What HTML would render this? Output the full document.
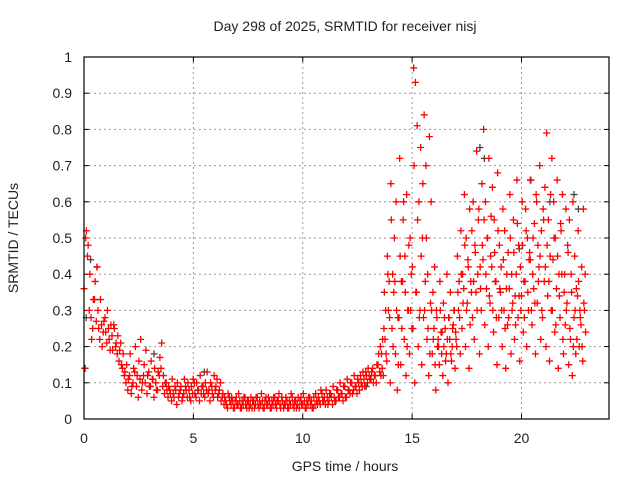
<!DOCTYPE html>
<html><head><meta charset="utf-8"><style>
body{margin:0;background:#fff}
svg text{font-family:"Liberation Sans",sans-serif;font-size:14px;fill:#222}
</style></head><body>
<svg id="chart" width="640" height="480" xmlns="http://www.w3.org/2000/svg">
<text x="345" y="31" text-anchor="middle">Day 298 of 2025, SRMTID for receiver nisj</text>
<text transform="translate(18,238) rotate(-90)" text-anchor="middle">SRMTID / TECUs</text>
<text x="345" y="471" text-anchor="middle">GPS time / hours</text>
<g id="grid"></g>
<g id="ticks"></g>
<g id="marks"></g>
<rect x="84" y="57" width="525" height="362" fill="none" stroke="#000" stroke-width="1.2"/>
</svg>
<script>
const xTicks=[0,5,10,15,20];
const yTicks=[0,0.1,0.2,0.3,0.4,0.5,0.6,0.7,0.8,0.9,1];
const yTickLabels=["0","0.1","0.2","0.3","0.4","0.5","0.6","0.7","0.8","0.9","1"];
const sampleStep=0.08;
const seriesCStart=169;
const seriesA=[.36,.50,.45,.30,.28,.25,.33,.27,.30,.22,.26,.24,
.28,.21,.25,.19,.23,.26,.20,.18,.16,.21,.14,.12,
.10,.08,.12,.07,.10,.13,.09,.06,.11,.08,.12,.10,
.07,.13,.09,.11,.06,.10,.08,.12,.14,.09,.07,.10,
.06,.08,.05,.07,.09,.04,.06,.08,.05,.07,.09,.06,
.08,.05,.07,.10,.06,.08,.05,.07,.09,.06,.08,.07,
.05,.09,.06,.08,.11,.07,.10,.06,.04,.05,.03,.06,
.04,.05,.03,.06,.04,.05,.03,.04,.06,.03,.05,.04,
.03,.05,.04,.06,.03,.04,.05,.03,.06,.04,.05,.03,
.04,.06,.03,.05,.04,.06,.03,.04,.05,.03,.04,.06,
.03,.05,.04,.03,.06,.04,.05,.03,.04,.06,.05,.03,
.04,.05,.06,.04,.07,.05,.04,.06,.05,.07,.04,.06,
.05,.08,.06,.07,.05,.09,.06,.08,.07,.10,.08,.09,
.07,.10,.12,.09,.11,.13,.10,.12,.11,.14,.12,.10,
.15,.13,.18,.12,.22,.16,.30,.10,.25,.35,.18,.08,
.28,.15,.38,.22,.12,.30,.18,.40,.25,.10,.35,.20,
.30,.15,.28,.38,.22,.12,.32,.18,.25,.08,.20,.15,
.24,.12,.28,.18,.10,.22,.16,.26,.14,.20,.30,.18,
.25,.36,.20,.32,.14,.38,.28,.22,.35,.40,.18,.30,
.44,.26,.36,.20,.32,.42,.24,.38,.15,.28,.35,.20,
.30,.14,.26,.36,.18,.32,.22,.40,.28,.16,.34,.24,
.38,.20,.30,.44,.26,.36,.18,.32,.42,.22,.28,.38,
.20,.34,.16,.30,.44,.24,.36,.14,.28,.40,.18,.26,
.32,.15,.22,.12,.28,.18,.34,.20,.26,.16,.30];
const seriesB=[.14,.52,.48,.40,.22,.33,.38,.42,.25,.33,.20,.27,
.24,.30,.22,.26,.19,.25,.21,.23,.19,.15,.18,.13,
.15,.11,.18,.09,.14,.20,.12,.16,.22,.10,.15,.19,
.12,.09,.16,.11,.14,.08,.13,.17,.21,.12,.10,.08,
.09,.07,.11,.06,.08,.10,.07,.09,.06,.11,.08,.10,
.06,.09,.11,.07,.10,.08,.12,.09,.07,.10,.13,.08,
.10,.07,.12,.09,.06,.08,.05,.07,.06,.04,.07,.05,
.06,.03,.05,.04,.07,.03,.05,.06,.04,.05,.03,.06,
.05,.03,.06,.04,.05,.07,.03,.05,.04,.06,.03,.05,
.06,.04,.05,.07,.03,.05,.04,.06,.03,.05,.07,.04,
.05,.03,.06,.05,.04,.07,.03,.05,.06,.04,.03,.06,
.07,.04,.05,.08,.05,.06,.08,.04,.07,.06,.09,.05,
.08,.06,.10,.07,.09,.06,.11,.08,.10,.07,.12,.09,
.11,.08,.10,.13,.09,.12,.14,.11,.13,.10,.12,.15,
.18,.20,.14,.25,.30,.45,.38,.65,.40,.50,.60,.28,
.72,.38,.55,.45,.62,.30,.50,.25,.97,.93,.81,.60,
.75,.50,.84,.70,.40,.78,.60,.35,.42,.30,.22,.38,
.18,.32,.25,.40,.28,.35,.20,.30,.24,.45,.38,.52,
.40,.62,.50,.44,.58,.35,.60,.48,.74,.55,.42,.65,
.80,.60,.50,.72,.45,.64,.55,.38,.68,.48,.42,.58,
.52,.36,.46,.62,.40,.55,.34,.66,.48,.42,.60,.38,
.58,.50,.44,.66,.40,.54,.62,.48,.70,.52,.58,.64,
.79,.55,.45,.72,.60,.50,.66,.40,.54,.62,.35,.58,
.48,.55,.40,.60,.45,.36,.52,.30,.42,.58,.40];
const seriesC=[.12,.22,.35,.18,.40,.28,.55,.20,.38,.30,.15,.45,
.25,.60,.35,.20,.48,.30,.42,.70,.35,.55,.28,.45,
.65,.30,.50,.25,.18,.30,.22,.15,.28,.20,.30,.24,
.20,.16,.22,.28,.18,.25,.30,.22,.35,.28,.40,.32,
.48,.30,.42,.26,.52,.38,.46,.30,.58,.36,.48,.55,
.40,.50,.34,.56,.30,.46,.28,.52,.36,.30,.44,.25,
.40,.28,.50,.30,.46,.26,.54,.34,.30,.48,.28,.52,
.35,.46,.30,.50,.32,.60,.38,.45,.30,.55,.42,.48,
.38,.62,.30,.50,.26,.45,.34,.52,.22,.40,.30,.46,
.25,.35,.20,.30,.22,.38,.28,.20,.32,.24];
const greyTimes=[0.05,0.1,0.3,0.6,3.2,5.5,12.9,18.1,18.3,19.9,20.4,21.3,22.4,22.6];
const greyValues=[0.14,0.28,0.44,0.42,0.18,0.13,0.09,0.75,0.72,0.47,0.66,0.60,0.62,0.58];

const X0=84,X1=609,Y0=419,Y1=57;
function xs(t){return X0+(t/24)*(X1-X0);}
function ys(v){return Y0-(v/1)*(Y0-Y1);}
const NS="http://www.w3.org/2000/svg";
const grid=document.getElementById('grid'),ticks=document.getElementById('ticks'),marks=document.getElementById('marks');
function mk(tag,attrs,parent){const e=document.createElementNS(NS,tag);for(const k in attrs)e.setAttribute(k,attrs[k]);parent.appendChild(e);return e;}
yTicks.forEach((v,i)=>{
  const y=ys(v);
  if(v>0&&v<1){const g=mk('line',{x1:X0,x2:X1,y1:y,y2:y,stroke:'#999','stroke-dasharray':'2,3'},grid);
  
  }
  const t1=mk('line',{x1:X0,x2:X0+5,y1:y,y2:y,stroke:'#000'},grid);
  
  
  const t2=mk('line',{x1:X1-5,x2:X1,y1:y,y2:y,stroke:'#000'},grid);
  
  
  const tx=mk('text',{x:72,y:y+5,'text-anchor':'end'},ticks);tx.textContent=yTickLabels[i];
  
  
});
xTicks.forEach(v=>{
  const x=xs(v);
  if(v>0){const g=mk('line',{x1:x,x2:x,y1:Y1,y2:Y0,stroke:'#999','stroke-dasharray':'2,3'},grid);
  
  }
  const t1=mk('line',{x1:x,x2:x,y1:Y0-5,y2:Y0,stroke:'#000'},grid);
  
  
  const t2=mk('line',{x1:x,x2:x,y1:Y1,y2:Y1+5,stroke:'#000'},grid);
  
  
  const tx=mk('text',{x:x,y:443,'text-anchor':'middle'},ticks);tx.textContent=String(v);
  
  
});
function plus(x,y,color,name){
  const p=mk('path',{d:`M${x-3.5},${y}h7M${x},${y-3.5}v7`,stroke:color,'stroke-width':1.3,fill:'none'},marks);
  
  
}
greyTimes.forEach((t,i)=>plus(xs(t),ys(greyValues[i]),'#444','grey-point'));
seriesC.forEach((v,i)=>plus(xs((i+seriesCStart)*sampleStep+0.05),ys(v),'#f00','red-point'));
seriesB.forEach((v,i)=>plus(xs(i*sampleStep+0.03),ys(v),'#f00','red-point'));
seriesA.forEach((v,i)=>plus(xs(i*sampleStep),ys(v),'#f00','red-point'));
</script>
</body></html>
